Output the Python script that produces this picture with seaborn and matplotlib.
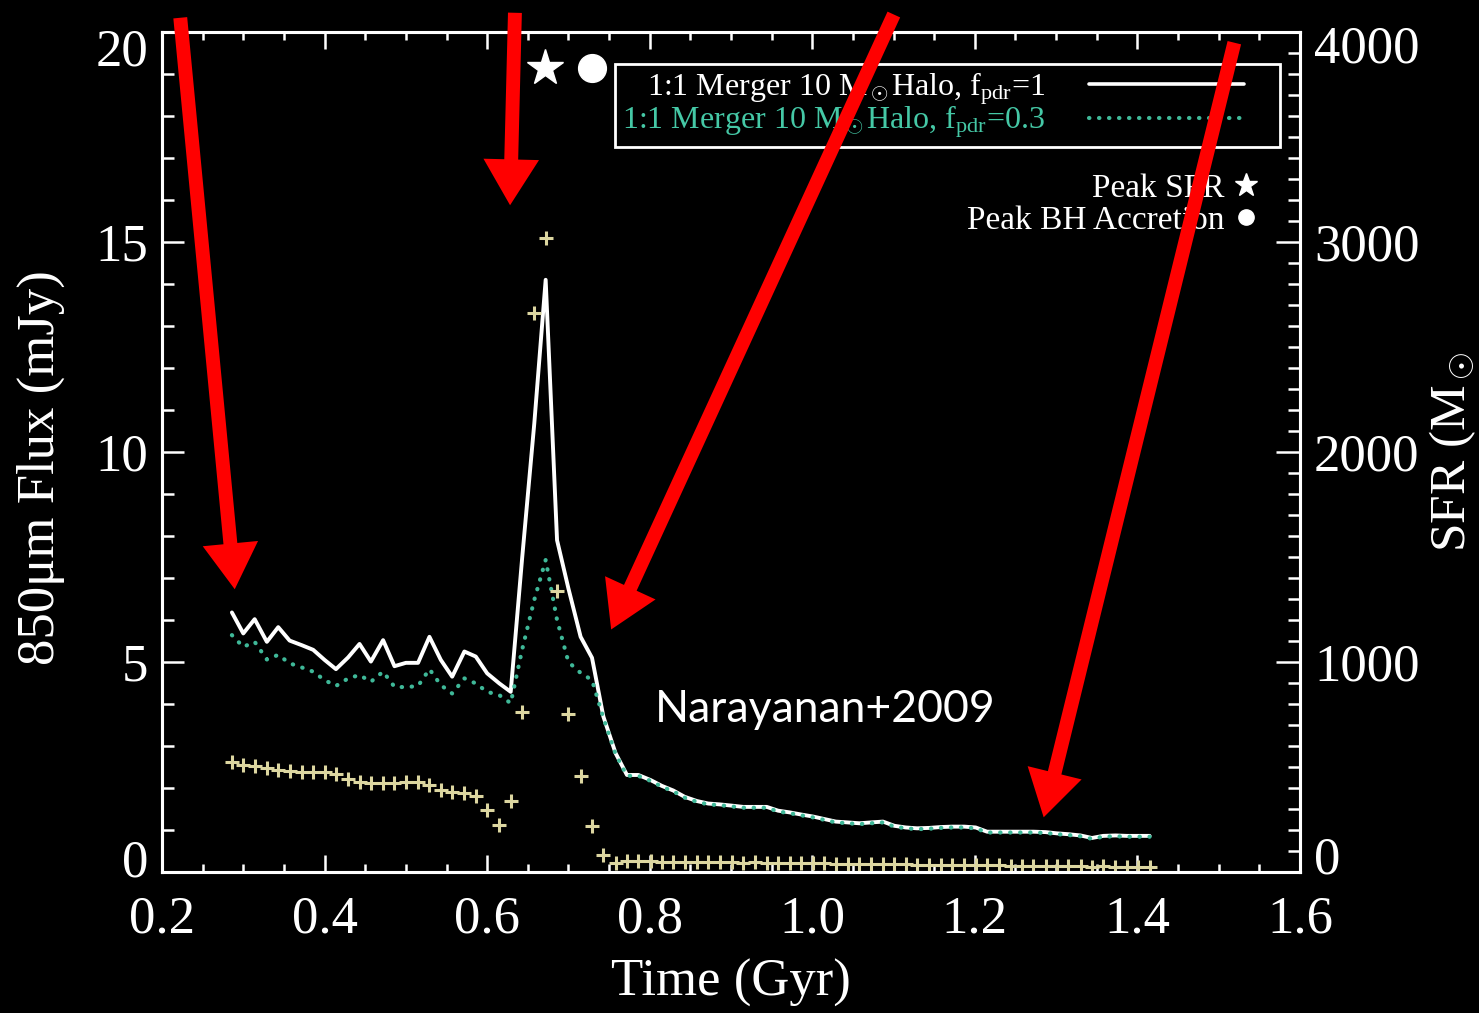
import matplotlib
matplotlib.use("Agg")
import matplotlib.pyplot as plt
from matplotlib.patches import FancyArrowPatch
from matplotlib.lines import Line2D
from matplotlib.legend_handler import HandlerLine2D
from matplotlib.transforms import ScaledTranslation
from matplotlib.ticker import MultipleLocator, FormatStrFormatter
import seaborn as sns
import pandas as pd

# Simulation snapshot times (Gyr)
time_gyr = [0.286, 0.300, 0.314, 0.329, 0.343, 0.357, 0.372, 0.386, 0.400, 0.414,
            0.429, 0.443, 0.457, 0.472, 0.486, 0.500, 0.515, 0.529, 0.543, 0.557,
            0.572, 0.586, 0.600, 0.615, 0.629, 0.643, 0.658, 0.672, 0.686, 0.700,
            0.715, 0.729, 0.743, 0.758, 0.772, 0.786, 0.801, 0.815, 0.829, 0.843,
            0.858, 0.872, 0.886, 0.901, 0.915, 0.929, 0.944, 0.958, 0.972, 0.986,
            1.001, 1.015, 1.029, 1.044, 1.058, 1.072, 1.087, 1.101, 1.115, 1.129,
            1.144, 1.158, 1.172, 1.187, 1.201, 1.215, 1.230, 1.244, 1.258, 1.272,
            1.287, 1.301, 1.315, 1.330, 1.344, 1.358, 1.373, 1.387, 1.401, 1.415]

# 850 micron flux (mJy), f_pdr = 1
flux_fpdr1 = [6.18, 5.68, 6.02, 5.48, 5.83, 5.51, 5.40, 5.29, 5.05, 4.83,
              5.11, 5.43, 5.01, 5.52, 4.90, 4.98, 4.98, 5.60, 5.05, 4.65,
              5.25, 5.13, 4.73, 4.49, 4.29, 7.46, 10.68, 14.10, 7.90, 6.75,
              5.60, 5.10, 3.70, 2.83, 2.31, 2.31, 2.19, 2.05, 1.94, 1.79,
              1.69, 1.63, 1.61, 1.58, 1.55, 1.55, 1.55, 1.46, 1.42, 1.37,
              1.32, 1.26, 1.20, 1.18, 1.16, 1.18, 1.20, 1.10, 1.06, 1.04,
              1.05, 1.07, 1.08, 1.08, 1.06, 0.96, 0.96, 0.96, 0.96, 0.96,
              0.95, 0.92, 0.90, 0.87, 0.81, 0.86, 0.87, 0.86, 0.86, 0.86]

# 850 micron flux (mJy), f_pdr = 0.3
flux_fpdr03 = [5.64, 5.36, 5.48, 5.06, 5.17, 4.97, 4.87, 4.77, 4.57, 4.43,
               4.61, 4.69, 4.53, 4.77, 4.41, 4.40, 4.43, 4.83, 4.45, 4.25,
               4.61, 4.49, 4.29, 4.21, 4.02, 5.29, 6.48, 7.43, 6.00, 5.00,
               4.74, 4.57, 3.67, 2.81, 2.29, 2.29, 2.17, 2.03, 1.92, 1.77,
               1.67, 1.61, 1.59, 1.56, 1.53, 1.53, 1.53, 1.44, 1.40, 1.35,
               1.30, 1.24, 1.18, 1.16, 1.14, 1.16, 1.18, 1.08, 1.04, 1.02,
               1.03, 1.05, 1.06, 1.06, 1.04, 0.94, 0.94, 0.94, 0.94, 0.94,
               0.93, 0.90, 0.88, 0.85, 0.79, 0.84, 0.85, 0.84, 0.84, 0.84]

# Star formation rate (Msun/yr)
sfr = [525, 510, 505, 494, 486, 482, 478, 478, 475, 465,
       441, 430, 422, 425, 425, 427, 427, 414, 390, 382,
       375, 362, 295, 224, 340, 760, 2660, 3018, 1340, 751,
       457, 219, 81, 44, 53, 51, 52, 50, 49, 50,
       48, 47, 48, 46, 45, 46, 44, 43, 44, 42,
       41, 42, 40, 39, 39, 38, 37, 38, 36, 35,
       35, 34, 33, 34, 32, 31, 32, 30, 30, 29,
       28, 29, 27, 27, 26, 27, 25, 25, 24, 24]

peak_times = [0.671, 0.729]          # peak SFR, peak BH accretion
peak_marker_flux = [19.15, 19.15]

x_ticks = [0.2, 0.4, 0.6, 0.8, 1.0, 1.2, 1.4, 1.6]
flux_ticks = [0, 5, 10, 15, 20]
sfr_ticks = [0, 1000, 2000, 3000, 4000]

df = pd.DataFrame({"time": time_gyr, "f1": flux_fpdr1, "f03": flux_fpdr03, "sfr": sfr})

sns.set_theme(style="ticks")
plt.rcParams.update({
    "figure.facecolor": "black",
    "axes.facecolor": "black",
    "savefig.facecolor": "black",
    "text.color": "white",
    "axes.labelcolor": "white",
    "xtick.color": "white",
    "ytick.color": "white",
    "axes.edgecolor": "white",
    "mathtext.fontset": "custom",
    "mathtext.rm": "Liberation Serif",
    "mathtext.it": "Liberation Serif:italic",
})
plt.rcParams["font.family"] = ["Liberation Serif", "DejaVu Serif"]

W, H = 1479, 1013
fig = plt.figure(figsize=(W / 100, H / 100), dpi=100)
ax = fig.add_axes([162 / W, 1 - 872 / H, (1300 - 162) / W, (872 - 32) / H])
ax2 = ax.twinx()

white = "#ffffff"
teal = "#3fb898"
khaki = "#dcd6a0"
dots = (0, (0.1, 2.3))

# SFR crosses on the right-hand axis
sns.scatterplot(data=df, x="time", y="sfr", ax=ax2, marker="+", s=110,
                color=khaki, linewidth=2.2, zorder=2)

# 850um flux curves
sns.lineplot(data=df, x="time", y="f1", ax=ax, color=white, linewidth=2.8,
             zorder=3)
sns.lineplot(data=df, x="time", y="f03", ax=ax, color=teal, linewidth=3.0,
             linestyle=dots, dash_capstyle="round", zorder=4)

# Peak SFR / peak BH accretion markers
ax.plot(peak_times[:1], peak_marker_flux[:1], marker="*", markersize=27,
        color="white", linestyle="", zorder=5)
ax.plot(peak_times[1:], peak_marker_flux[1:], marker="o", markersize=20,
        color="white", linestyle="", zorder=5)

# Axes limits and ticks
ax.set_xlim(0.2, 1.6)
ax.set_ylim(0, 20)
ax2.set_ylim(0, 4000)
ax.set_xticks(x_ticks)
ax.xaxis.set_major_formatter(FormatStrFormatter("%.1f"))
ax.xaxis.set_minor_locator(MultipleLocator(0.05))
ax.set_yticks(flux_ticks)
ax.yaxis.set_minor_locator(MultipleLocator(1))
ax2.set_yticks(sfr_ticks)
ax2.yaxis.set_minor_locator(MultipleLocator(100))

tick_font = 38
ax.tick_params(axis="x", which="major", direction="in", length=12, width=1.8,
               top=True, bottom=True, labelsize=tick_font, pad=17, colors="white")
ax.tick_params(axis="x", which="minor", direction="in", length=6, width=1.8,
               top=True, bottom=True, colors="white")
ax.tick_params(axis="y", which="major", direction="in", length=16, width=1.8,
               left=True, right=False, labelsize=tick_font, pad=10, colors="white")
ax.tick_params(axis="y", which="minor", direction="in", length=8.5, width=1.8,
               left=True, right=False, colors="white")
ax2.tick_params(axis="y", which="major", direction="in", length=17, width=1.8,
                right=True, labelsize=tick_font, pad=10, colors="white")
ax2.tick_params(axis="y", which="minor", direction="in", length=9, width=1.8,
                right=True, colors="white")
for a in (ax, ax2):
    for sp in a.spines.values():
        sp.set_color("white")
        sp.set_linewidth(2.2)
        sp.set_visible(True)

ax.set_xlabel("Time (Gyr)", fontsize=38, color="white")
ax.xaxis.set_label_coords(0.5, -0.103)
ax.set_ylabel("850μm Flux (mJy)", fontsize=38, color="white")
ax.yaxis.set_label_coords(-0.085, 0.482)
ax2.set_ylabel(r"SFR (M$_\odot$", fontsize=37, color="white")
ax2.yaxis.set_label_coords(1.112, 0.50)


class ShortLineHandler(HandlerLine2D):
    """Draws the legend sample line over only part of the handle box."""

    def __init__(self, frac, **kw):
        super().__init__(**kw)
        self.frac = frac

    def create_artists(self, legend, orig_handle, xdescent, ydescent, width,
                       height, fontsize, trans):
        return super().create_artists(legend, orig_handle, xdescent, ydescent,
                                      width * self.frac, height, fontsize, trans)


# Model legend
model_handles = [
    Line2D([], [], color=white, linewidth=2.6),
    Line2D([], [], color=teal, linewidth=3.0, linestyle=dots,
           dash_capstyle="round"),
]
model_labels = [r"1:1 Merger 10 M$_\odot$Halo, f$_{\rm pdr}$=1",
                r"1:1 Merger 10 M$_\odot$Halo, f$_{\rm pdr}$=0.3"]
leg1 = ax2.legend(model_handles, model_labels, loc="upper right",
                  bbox_to_anchor=(0.982, 0.962), borderaxespad=0, fontsize=23,
                  markerfirst=False, frameon=True, fancybox=False,
                  handlelength=5.75, handletextpad=1.4, labelspacing=-0.1,
                  borderpad=0.2, facecolor="black", edgecolor="white",
                  framealpha=1,
                  handler_map={Line2D: ShortLineHandler(0.84)})
leg1.get_frame().set_linewidth(2.0)
leg1.get_texts()[0].set_color(white)
leg1.get_texts()[1].set_color("#45c8a6")
ax2.add_artist(leg1)

peak_handles = [
    Line2D([], [], marker="*", markersize=17, color="white", linestyle=""),
    Line2D([], [], marker="o", markersize=11, color="white", linestyle=""),
]
leg2 = ax2.legend(peak_handles, ["Peak SFR", "Peak BH Accretion"],
                  loc="upper right", bbox_to_anchor=(0.966, 0.832),
                  borderaxespad=0, borderpad=0, fontsize=24, markerfirst=False,
                  frameon=False, handlelength=0.9, handletextpad=0.2,
                  labelspacing=0.05)
for t in leg2.get_texts():
    t.set_color("white")

fig.text(825 / W, 1 - 710 / H, "Narayanan+2009", fontfamily="Lato",
         fontsize=32, color="white", ha="center", va="center")

# Red pointer arrows
arrow_tails = [(180, 15), (515, 10), (895, 12), (1235, 40)]
arrow_heads = [(235, 592), (510, 208), (610, 632), (1043, 820)]
for (x0, y0), (x1, y1) in zip(arrow_tails, arrow_heads):
    arr = FancyArrowPatch((x0 / W, 1 - y0 / H), (x1 / W, 1 - y1 / H),
                          transform=fig.transFigure,
                          arrowstyle="simple,head_width=4.0,head_length=3.3,tail_width=1.0",
                          mutation_scale=10, color="#ff0000", linewidth=0,
                          zorder=20)
    fig.add_artist(arr)

# Nudge the end labels of the vertical axes inward
fig.canvas.draw()
def nudge(label, dy_px):
    label.set_transform(label.get_transform()
                        + ScaledTranslation(0, dy_px / 100, fig.dpi_scale_trans))

left_labels = ax.yaxis.get_majorticklabels()
nudge(left_labels[0], 14)
nudge(left_labels[-1], -15)
right_labels = ax2.yaxis.get_majorticklabels()
nudge(right_labels[0], 17)
nudge(right_labels[-1], -12)

fig.savefig("out.png", dpi=100, facecolor="black")
